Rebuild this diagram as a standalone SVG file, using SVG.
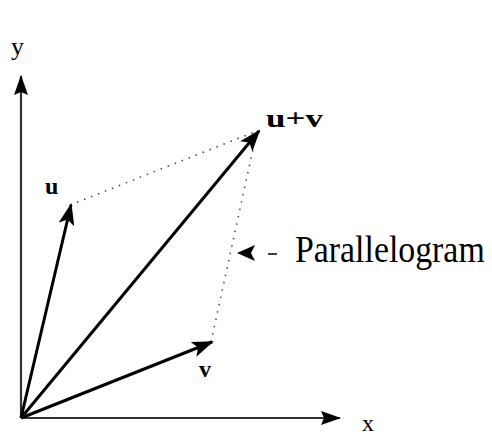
<svg xmlns="http://www.w3.org/2000/svg" width="492" height="437" viewBox="0 0 492 437">
<style>
.axis{stroke:#333;stroke-width:2.2;fill:none}
.vec{stroke:#000;stroke-width:3;fill:none}
.dot{stroke:#444;stroke-width:1.5;stroke-dasharray:1.5 6;fill:none}
.t{font-family:"Liberation Serif",serif;fill:#000}
</style>
<defs>
<marker id="ah" viewBox="0 0 22 16" refX="20" refY="8" markerWidth="22" markerHeight="16" markerUnits="userSpaceOnUse" orient="auto">
<path d="M0,0 L22,8 L0,16 L5,8 Z" fill="#000"/>
</marker>
<marker id="ax" viewBox="0 0 20 14" refX="19" refY="7" markerWidth="20" markerHeight="14" markerUnits="userSpaceOnUse" orient="auto">
<path d="M0,0 L20,7 L0,14 L3,7 Z" fill="#000"/>
</marker>
</defs>
<g id="connectors">
<line class="axis" x1="21" y1="418" x2="21" y2="76" marker-end="url(#ax)"/>
<line class="axis" x1="21" y1="418" x2="340" y2="418" marker-end="url(#ax)"/>
<line class="dot" x1="70" y1="205" x2="257" y2="131"/>
<line class="dot" x1="211" y1="342" x2="257" y2="131"/>
<line class="vec" x1="21" y1="418" x2="71" y2="205" marker-end="url(#ah)"/>
<line class="vec" x1="21" y1="418" x2="259" y2="131" marker-end="url(#ah)"/>
<line class="vec" x1="21" y1="418" x2="212" y2="342" marker-end="url(#ah)"/>
<path d="M237,253 L255,245 L251,253 L255,261 Z" fill="#000"/>
<line x1="268" y1="254" x2="277" y2="254" stroke="#000" stroke-width="1.5"/>
</g>
<g id="label-y"><text class="t" x="11" y="55" font-size="26">y</text></g>
<g id="label-x"><text class="t" x="362" y="431" font-size="24">x</text></g>
<g id="label-u"><text class="t" x="45" y="194" font-size="24" font-weight="bold">u</text></g>
<g id="label-uv"><text class="t" x="266" y="127" font-size="26" font-weight="bold" textLength="57" lengthAdjust="spacingAndGlyphs">u+v</text></g>
<g id="label-v"><text class="t" x="199" y="377" font-size="24" font-weight="bold">v</text></g>
<g id="label-parallelogram"><text class="t" transform="translate(295,262) scale(0.89,1)" x="0" y="0" font-size="38">Parallelogram</text></g>
</svg>
